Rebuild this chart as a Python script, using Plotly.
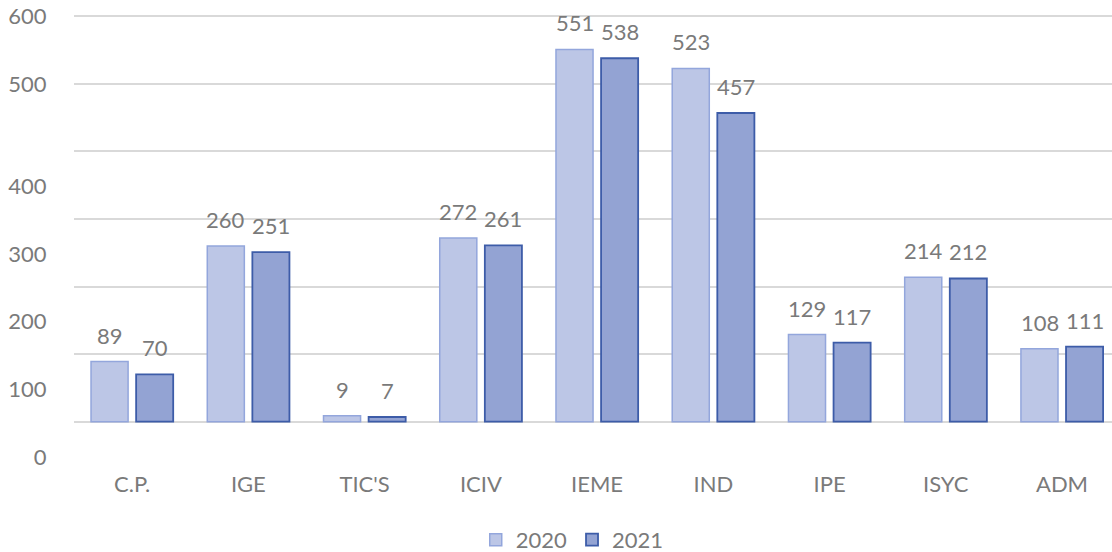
import plotly.graph_objects as go

categories = ["C.P.", "IGE", "TIC'S", "ICIV", "IEME", "IND", "IPE", "ISYC", "ADM"]
values_2020 = [89, 260, 9, 272, 551, 523, 129, 214, 108]
values_2021 = [70, 251, 7, 261, 538, 457, 117, 212, 111]
grid_vals = [0, 100, 200, 300, 400, 500, 600]
label_vals = [-52, 48, 148, 248, 348, 500, 600]
label_text = ["0", "100", "200", "300", "400", "500", "600"]

FONT = "Lato"
GREY = "#7a7a7a"
FS = 22
SLOT_PX = 22.5  # half slot offset of each bar within a group

fig = go.Figure()
fig.add_trace(go.Bar(
    name="2020", x=categories, y=values_2020,
    marker=dict(color="#bcc6e6", line=dict(color="#93a6dc", width=1.5)),
))
fig.add_trace(go.Bar(
    name="2021", x=categories, y=values_2021,
    marker=dict(color="#93a3d3", line=dict(color="#3d5ca8", width=1.8)),
))
fig.add_trace(go.Scatter(x=[], y=[], yaxis="y2", showlegend=False, hoverinfo="skip"))

annotations = []
for cat, v in zip(categories, values_2020):
    annotations.append(dict(x=cat, y=v, xref="x", yref="y", text=str(v), showarrow=False,
                            xshift=-SLOT_PX, yshift=11, yanchor="bottom",
                            font=dict(family=FONT, size=FS, color=GREY)))
for cat, v in zip(categories, values_2021):
    annotations.append(dict(x=cat, y=v, xref="x", yref="y", text=str(v), showarrow=False,
                            xshift=SLOT_PX, yshift=11, yanchor="bottom",
                            font=dict(family=FONT, size=FS, color=GREY)))

yrange = [-70, 605]
fig.update_layout(
    width=1112, height=552,
    margin=dict(l=74, r=0, t=13, b=83),
    plot_bgcolor="white", paper_bgcolor="white",
    font=dict(family=FONT, size=FS, color=GREY),
    barmode="group", bargap=0.224, bargroupgap=0.178,
    xaxis=dict(range=[-0.5, 8.43], showgrid=False, showline=False, zeroline=False,
               ticks="", automargin=False,
               tickfont=dict(family=FONT, size=FS, color=GREY)),
    yaxis=dict(range=yrange, tickvals=grid_vals, showticklabels=False, automargin=False,
               showgrid=True, gridcolor="#d9d9d9", gridwidth=1.5, zeroline=False,
               showline=False),
    yaxis2=dict(range=yrange, overlaying="y", side="left", tickvals=label_vals,
                ticktext=label_text, showgrid=False, zeroline=False, showline=False,
                ticks="outside", ticklen=22, tickcolor="rgba(0,0,0,0)", automargin=False,
                tickfont=dict(family=FONT, size=FS, color=GREY)),
    legend=dict(orientation="h", x=0.48, xanchor="center", xref="paper",
                yref="container", y=0.022, yanchor="middle",
                font=dict(family=FONT, size=FS, color=GREY), traceorder="normal"),
    annotations=annotations,
    showlegend=True,
)

fig.write_html("out.html", config={"displayModeBar": False},
               post_script="document.body.style.margin='0';document.body.style.padding='0';")
